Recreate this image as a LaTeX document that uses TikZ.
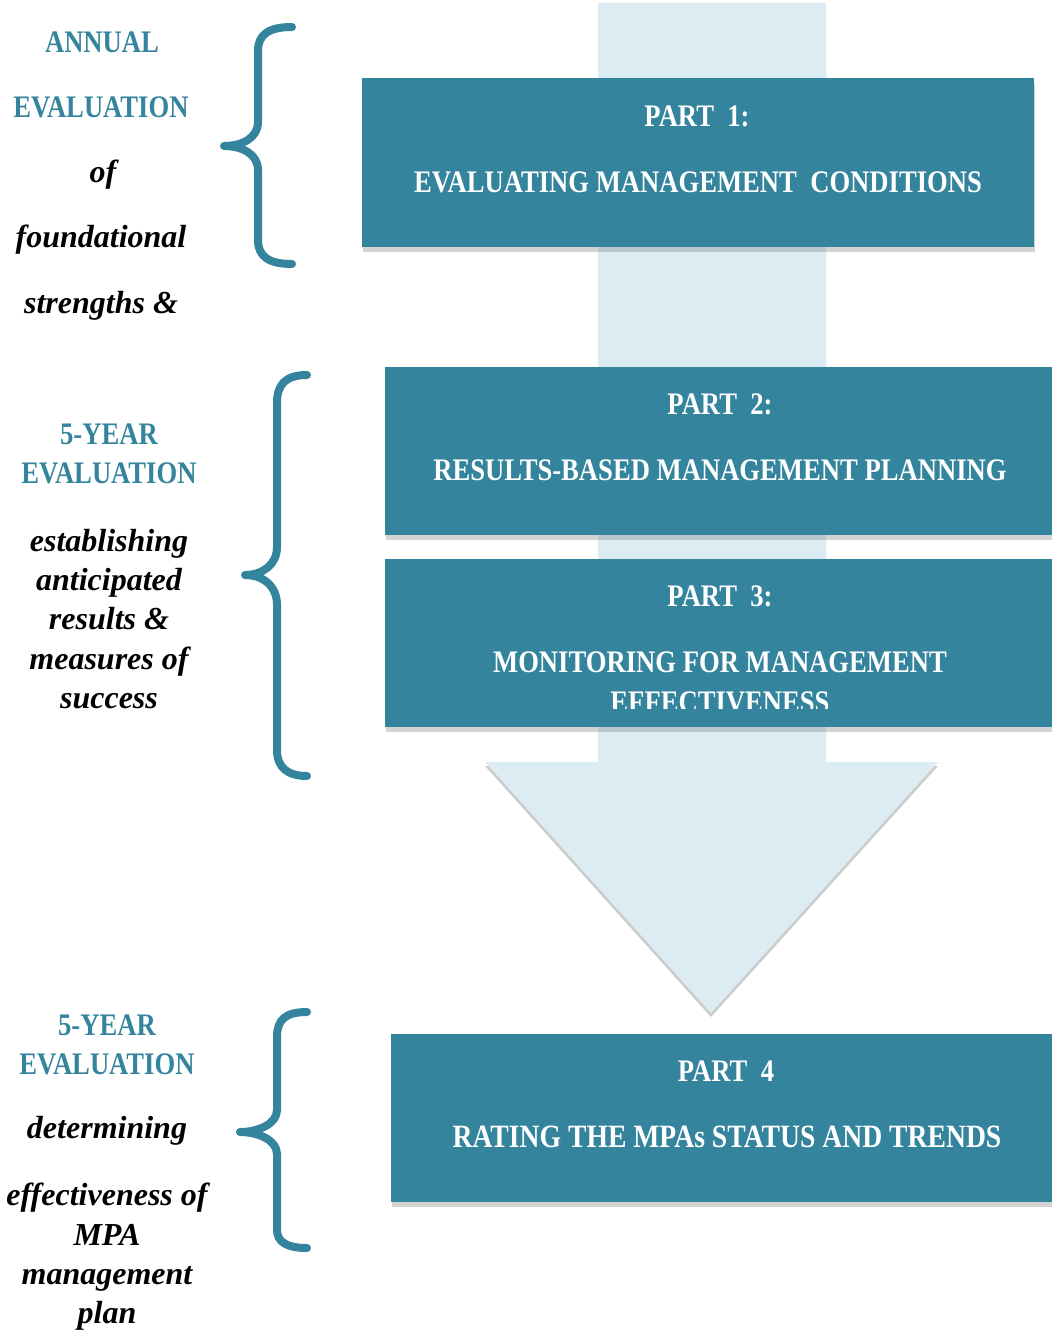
\documentclass[tikz,border=0pt]{standalone}
\usepackage{fontspec}
\setmainfont{Liberation Serif}
\newfontfamily\capsfont{Liberation Serif}[FakeStretch=0.85]
\usetikzlibrary{shadows}

\definecolor{mpateal}{RGB}{51,132,156}
\definecolor{mpalight}{RGB}{219,237,243}

\tikzset{every picture/.style={line width=0.75pt}}

\begin{document}
\begin{tikzpicture}[x=0.75pt,y=0.75pt,yscale=-1,
	partbox/.style={fill=mpateal, anchor=north west, inner sep=0pt, minimum height=126pt,
		drop shadow={shadow xshift=0.75pt, shadow yshift=-4pt, fill=gray, opacity=0.35}},
	parttext/.style={text=white, inner sep=0pt, font=\capsfont\bfseries\fontsize{23.5}{30}\selectfont},
	evalhead/.style={text=mpateal, inner sep=0pt, align=center, font=\capsfont\bfseries\fontsize{23.5}{29.25}\selectfont},
	evalnote/.style={inner sep=0pt, align=center, font=\bfseries\itshape\fontsize{24}{29.5}\selectfont},
	evalbrace/.style={draw=mpateal, line width=6pt, line cap=round, line join=round,
		preaction={draw=black!20, transform canvas={xshift=0.75pt, yshift=-2.25pt}}}
]
	\useasboundingbox (0,0) rectangle (1051,1334);

	% the big light arrow behind the parts
	\fill [mpalight, drop shadow={shadow xshift=0pt, shadow yshift=-3pt, fill=gray, opacity=0.4}]
		(598,3) -- (826,3) -- (826,762) -- (938,762) -- (711,1013) -- (485,762) -- (598,762) -- cycle;

	% parts
	\node [partbox, minimum width=504pt] (p1) at (361,78) {};
	\node [partbox, minimum width=500.25pt] (p2) at (384,366) {};
	\node [partbox, minimum width=500.25pt] (p3) at (384,558) {};
	\node [partbox, minimum width=495.75pt] (p4) at (390,1033) {};

	\node [parttext] (p1a) at (697,116) {PART\ \ 1:};
	\node [parttext] (p1b) at (698,182) {EVALUATING MANAGEMENT\ \ CONDITIONS};
	\node [parttext] (p2a) at (720,404) {PART\ \ 2:};
	\node [parttext] (p2b) at (720,470) {RESULTS-BASED MANAGEMENT PLANNING};
	\node [parttext] (p3a) at (720,596) {PART\ \ 3:};
	\begin{scope}
		\clip (384,558) rectangle (1051,708);
		\node [parttext, align=center] (p3b) at (720,682) {MONITORING FOR MANAGEMENT\\EFFECTIVENESS};
	\end{scope}
	\node [parttext] (p4a) at (726,1071) {PART\ \ 4};
	\node [parttext, font=\capsfont\bfseries\fontsize{24.4}{30}\selectfont] (p4b) at (727,1137) {RATING THE MPAs STATUS AND TRENDS};

	% annual evaluation
	\node [evalhead] (annual) at (102,42) {ANNUAL};
	\node [evalhead] (annualeval) at (101,107) {EVALUATION};
	\node [evalnote] (of) at (103,175) {of};
	\node [evalnote] (found) at (101,240) {foundational};
	\node [evalnote] (strength) at (101,306) {strengths \&};
	\draw [evalbrace] (292,27) .. controls (268,27) and (258,35) .. (258,51) -- (258,122)
		.. controls (258,138) and (242,146) .. (224,146) .. controls (242,146) and (258,154) .. (258,170)
		-- (258,240) .. controls (258,256) and (268,264) .. (292,264);

	% 5-year evaluation, planning and monitoring
	\node [evalhead] (fiveyr) at (109,454) {5-YEAR\\EVALUATION};
	\node [evalnote] (establish) at (109,619) {establishing\\anticipated\\results \&\\measures of\\success};
	\draw [evalbrace] (307,375) .. controls (285,375) and (277,385) .. (277,403) -- (277,547)
		.. controls (277,565) and (262,575) .. (245,575) .. controls (262,575) and (277,585) .. (277,605)
		-- (277,750) .. controls (277,767) and (287,776) .. (307,776);

	% 5-year evaluation, rating
	\node [evalhead] (fiveyrb) at (107,1045) {5-YEAR\\EVALUATION};
	\node [evalnote] (determ) at (107,1131) {determining};
	\node [evalnote] (effect) at (107,1257) {effectiveness of\\MPA\\management\\plan};
	\draw [evalbrace] (307,1012) .. controls (285,1012) and (277,1020) .. (277,1037) -- (277,1110)
		.. controls (277,1124) and (258,1132) .. (240,1132) .. controls (258,1132) and (277,1140) .. (277,1154)
		-- (277,1230) .. controls (277,1242) and (287,1248) .. (307,1248);
\end{tikzpicture}
\end{document}
